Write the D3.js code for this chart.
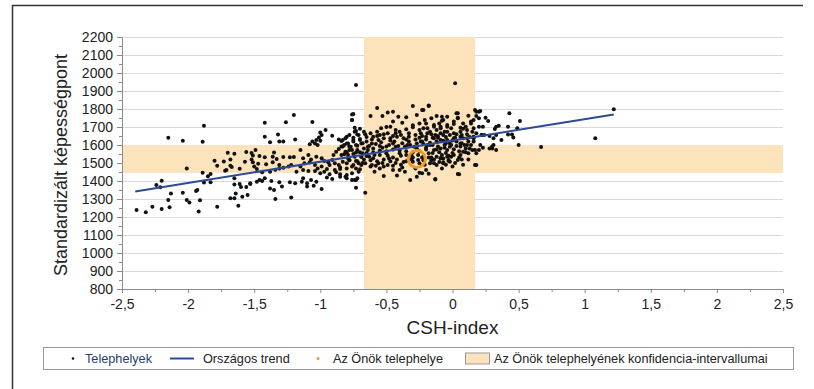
<!DOCTYPE html>
<html>
<head>
<meta charset="utf-8">
<script src="https://cdn.jsdelivr.net/npm/d3@7"></script>
<style>
  body { margin: 0; background: #fff; }
  text { font-family: "Liberation Sans", Arial, sans-serif; }
</style>
</head>
<body>
<div id="chart-area"></div>
<script>
// adatok: CSH-index (x) es standardizalt kepessegpont (y) telephelyenkent
var yTicks = [800, 900, 1000, 1100, 1200, 1300, 1400, 1500, 1600, 1700, 1800, 1900, 2000, 2100, 2200];
var xTicks = [-2.5, -2, -1.5, -1, -0.5, 0, 0.5, 1, 1.5, 2, 2.5];

// orszagos trend (kezdo- es vegpont)
var trendX = [-2.4, 1.22];
var trendY = [1342, 1769];

// az Onok telephelye
var ownSite = [-0.27, 1522];

// konfidencia-intervallumok
var ciX = [-0.67, 0.17];
var ciY = [1445, 1600];

var telephelyek = [
  // bal szel
  [-1.88,1707],[-2.15,1640],[-2.04,1624],[-1.89,1618],[-2.01,1470],
  [-1.80,1513],[-1.78,1485],[-1.73,1509],[-1.70,1557],[-1.65,1552],[-1.68,1519],[-1.68,1485],[-1.67,1478],[-1.71,1461],[-1.72,1457],[-1.57,1507],[-1.61,1468],[-1.56,1561],[-1.52,1556],[-1.52,1520],[-1.50,1480],
  [-1.89,1446],[-1.85,1426],[-1.83,1439],[-1.88,1391],[-1.83,1393],
  [-2.20,1402],[-2.21,1365],[-2.24,1378],
  [-1.65,1415],[-1.65,1381],[-1.61,1383],[-1.60,1367],[-1.56,1367],[-1.53,1383],[-1.64,1331],[-1.59,1313],[-1.55,1322],[-1.68,1304],[-1.65,1304],[-1.62,1263],
  [-2.13,1330],[-2.15,1294],[-2.04,1335],[-2.01,1294],[-1.99,1281],[-1.94,1344],[-1.93,1350],[-1.91,1293],[-1.92,1230],[-1.78,1257],
  [-2.39,1239],[-2.32,1226],[-2.27,1257],[-2.20,1244],[-2.14,1254],
  // -1.5 .. -0.7
  [-0.73,1933],[-1.20,1767],[-1.42,1724],[-1.26,1726],[-1.06,1728],[-0.76,1770],[-0.76,1739],[-0.74,1696],[-0.73,1678],[-0.72,1659],
  [-1.42,1646],[-1.32,1659],[-1.19,1631],[-1.31,1619],[-1.28,1619],[-1.38,1615],
  [-0.96,1683],[-1.00,1670],[-0.99,1655],[-1.01,1641],[-1.03,1628],[-0.91,1652],[-1.00,1624],[-1.04,1609],[-1.02,1600],[-1.06,1619],[-1.08,1604],
  [-0.78,1655],[-0.81,1637],[-0.84,1622],[-0.86,1631],[-0.80,1609],[-0.75,1628],[-0.70,1633],[-0.69,1609],[-0.72,1596],[-0.78,1591],[-0.83,1591],
  [-0.76,1572],[-0.73,1559],[-0.79,1544],[-0.82,1548],[-0.86,1578],[-0.88,1563],[-0.90,1544],[-0.68,1554],
  [-1.49,1572],[-1.51,1541],[-1.46,1539],[-1.42,1532],[-1.35,1559],[-1.36,1535],[-1.33,1522],[-1.28,1533],[-1.23,1532],[-1.20,1533],[-1.15,1572],[-1.13,1526],[-1.09,1544],[-1.07,1520],[-1.03,1535],[-0.99,1526],[-0.97,1511],[-0.94,1504],[-0.91,1517],[-0.89,1498],[-0.86,1489],[-0.83,1507],[-0.78,1517],[-0.73,1511],[-0.69,1535],
  [-1.51,1504],[-1.47,1496],[-1.41,1493],[-1.36,1504],[-1.31,1489],[-1.24,1480],[-1.22,1489],[-1.15,1480],[-1.12,1498],[-1.08,1504],[-1.04,1489],[-1.02,1470],[-0.99,1480],[-0.95,1467],[-0.93,1489],[-0.89,1461],[-0.85,1467],[-0.80,1470],[-0.76,1480],[-0.73,1470],[-0.69,1489],
  [-1.48,1467],[-1.44,1448],[-1.38,1452],[-1.34,1463],[-1.31,1470],[-1.28,1474],[-1.18,1452],[-1.13,1461],[-1.09,1456],[-1.04,1456],[-1.00,1443],[-0.97,1452],[-0.93,1437],[-0.88,1448],[-0.85,1437],[-0.80,1433],[-0.76,1443],[-0.71,1452],
  [-1.53,1387],[-1.48,1396],[-1.46,1406],[-1.44,1400],[-1.42,1415],[-1.37,1400],[-1.38,1359],[-1.35,1350],[-1.31,1393],[-1.29,1369],[-1.23,1393],[-1.19,1387],[-1.14,1396],[-1.13,1415],[-1.10,1387],[-1.07,1406],[-1.05,1374],[-1.10,1369],[-1.03,1396],[-0.99,1356],[-0.95,1419],[-0.91,1411],[-0.85,1424],[-0.80,1415],[-0.76,1406],[-0.73,1406],[-0.73,1363],
  [-1.34,1300],[-1.22,1309],
  // suru mag -0.85 .. 0.2
  [-0.75,1772],[-0.76,1739],[-0.62,1761],[-0.57,1806],[-0.53,1761],[-0.49,1780],[-0.45,1785],[-0.41,1757],[-0.45,1730],[-0.47,1702],[-0.38,1724],[-0.35,1754],[-0.30,1817],[-0.27,1767],[-0.23,1794],[-0.18,1817],[-0.21,1739],[-0.25,1720],[-0.16,1748],[-0.12,1761],[-0.08,1735],[-0.04,1757],[0.03,1776],[0.04,1748],[0.01,1717],
  [-0.04,1702],[-0.09,1693],[-0.14,1702],[-0.19,1693],[-0.25,1683],[-0.30,1698],[-0.35,1687],[-0.40,1674],[-0.43,1683],[-0.49,1665],[-0.54,1693],[-0.57,1674],[-0.60,1646],[-0.62,1665],[-0.67,1674],[-0.71,1656],[-0.74,1674],[-0.80,1646],[-0.83,1628],[-0.84,1591],
  [-0.79,1609],[-0.75,1619],[-0.70,1628],[-0.65,1619],[-0.61,1609],[-0.56,1628],[-0.52,1637],[-0.47,1637],[-0.42,1646],[-0.37,1637],[-0.33,1646],[-0.28,1656],[-0.23,1650],[-0.19,1665],[-0.13,1656],[-0.09,1665],[-0.04,1674],[0.01,1665],[0.06,1674],[0.10,1702],[0.14,1720],[0.17,1794],[0.20,1785],[0.18,1761],[0.16,1739],[0.15,1674],[0.18,1665],
  [0.20,1572],[0.16,1637],[0.12,1619],[0.08,1637],[0.03,1619],[-0.02,1609],[-0.07,1624],[-0.12,1619],[-0.17,1613],[-0.22,1606],[-0.27,1609],[-0.32,1600],[-0.36,1591],[-0.41,1594],[-0.45,1609],[-0.50,1591],[-0.55,1594],[-0.60,1581],[-0.64,1572],[-0.67,1581],[-0.72,1572],[-0.78,1572],[-0.81,1563],
  [-0.84,1544],[-0.79,1526],[-0.74,1535],[-0.69,1535],[-0.65,1539],[-0.60,1526],[-0.55,1544],[-0.50,1554],[-0.45,1531],[-0.40,1554],[-0.35,1544],[-0.30,1531],[-0.26,1544],[-0.22,1535],[-0.18,1554],[-0.14,1572],[-0.09,1581],[-0.04,1572],[0.01,1576],[0.06,1591],[0.10,1581],[0.15,1572],[0.18,1554],[0.12,1554],[0.06,1544],
  [-0.01,1535],[-0.03,1517],[-0.09,1526],[-0.14,1520],[-0.17,1498],[-0.12,1489],[-0.07,1498],[-0.02,1507],[0.04,1517],[0.18,1489],
  [-0.80,1498],[-0.75,1489],[-0.71,1498],[-0.66,1498],[-0.61,1489],[-0.56,1498],[-0.52,1480],[-0.49,1489],[-0.45,1461],[-0.40,1461],[-0.36,1452],[-0.32,1406],[-0.25,1446],[-0.27,1424],[-0.20,1461],[-0.13,1409],[0.04,1439],[-0.72,1415],[-0.74,1406],[-0.66,1335],[-0.81,1424],[-0.59,1452],[-0.52,1428],
  [-0.30,1507],[-0.26,1517],[-0.31,1520],[-0.25,1498],
  [-0.82,1600],[-0.77,1590],[-0.73,1600],[-0.68,1610],[-0.63,1595],[-0.58,1605],[-0.53,1585],[-0.48,1600],[-0.43,1590],[-0.38,1610],[-0.33,1620],[-0.29,1590],[-0.24,1620],[-0.20,1585],[-0.15,1600],[-0.11,1640],[-0.06,1600],[-0.02,1590],[0.02,1640],[0.07,1610],[0.11,1660],
  [-0.80,1560],[-0.75,1550],[-0.70,1560],[-0.65,1555],[-0.60,1560],[-0.55,1570],[-0.50,1565],[-0.45,1575],[-0.40,1570],[-0.35,1565],[-0.30,1560],[-0.25,1565],[-0.20,1575],[-0.15,1555],[-0.10,1560],[-0.05,1555],[0.00,1555],[0.05,1565],[0.10,1560],
  [-0.78,1515],[-0.72,1510],[-0.67,1520],[-0.62,1515],[-0.57,1510],[-0.52,1520],[-0.47,1510],[-0.42,1520],[-0.37,1505],[-0.33,1525],[-0.22,1515],[-0.18,1530],[-0.12,1535],[-0.07,1525],
  [-0.05,1645],[-0.15,1640],[-0.25,1640],[-0.35,1630],[-0.45,1650],[-0.55,1655],[-0.65,1645],[-0.75,1640],[-0.70,1690],[-0.50,1700],[-0.30,1710],[-0.10,1720],[0.08,1690],
  [-0.62,1480],[-0.55,1470],[-0.45,1485],[-0.38,1475],[-0.28,1470],[-0.08,1470],[0.00,1480],[0.08,1490],[-0.70,1465],[-0.85,1475],[-0.18,1440],[-0.42,1430],[0.12,1520],[0.14,1600],
  [-0.64,1590],[-0.59,1545],[-0.54,1615],[-0.49,1540],[-0.44,1620],[-0.39,1540],[-0.34,1600],[-0.31,1545],[-0.27,1580],[-0.23,1530],[-0.19,1600],[-0.16,1530],[-0.12,1575],[-0.08,1545],[-0.05,1610],[-0.03,1540],[0.00,1625],[0.03,1595],[0.05,1530],[0.09,1600],[0.13,1580],
  [-0.66,1660],[-0.61,1630],[-0.57,1650],[-0.52,1660],[-0.47,1625],[-0.43,1665],[-0.39,1655],[-0.33,1665],[-0.28,1630],[-0.24,1665],[-0.20,1630],[-0.16,1660],[-0.11,1650],[-0.07,1655],[-0.02,1655],[0.03,1660],[0.07,1655],[0.13,1645],
  [-0.68,1500],[-0.63,1535],[-0.58,1485],[-0.53,1500],[-0.48,1525],[-0.43,1500],[-0.39,1490],[-0.35,1510],[-0.21,1490],[-0.16,1515],[-0.10,1505],[-0.05,1490],[0.02,1500],[0.07,1520],
  // 0 korul
  [0.02,1943],[-0.18,1819],[-0.22,1794],[-0.08,1757],[-0.07,1739],[0.04,1776],[0.04,1752],[0.12,1763],[0.18,1785],[0.20,1748],[0.14,1730],[0.08,1720],[0.01,1730],[-0.04,1711],[-0.09,1702],[-0.14,1711],[-0.20,1720],
  [-0.22,1693],[-0.17,1674],[-0.12,1683],[-0.06,1674],[-0.01,1693],[0.06,1696],[0.11,1683],[0.16,1693],[0.20,1702],[0.22,1656],[0.16,1646],[0.11,1637],[0.06,1646],[0.01,1637],[-0.04,1628],[-0.09,1628],[-0.14,1637],[-0.20,1646],
  [-0.23,1619],[-0.17,1600],[-0.11,1591],[-0.06,1585],[-0.01,1600],[0.06,1609],[0.11,1600],[0.16,1619],[0.17,1572],[0.08,1563],[0.01,1544],[-0.04,1535],[-0.09,1526],[-0.14,1498],[-0.07,1504],[-0.03,1511],[0.05,1437],[0.17,1489],[-0.13,1411],[-0.23,1443],
  // jobb oldal
  [0.21,1789],[0.25,1752],[0.27,1733],[0.43,1776],[0.51,1733],[0.23,1702],[0.33,1702],[0.32,1689],[0.35,1707],[0.42,1702],[0.49,1693],[0.22,1656],[0.24,1656],[0.28,1650],[0.31,1637],[0.33,1656],[0.37,1628],[0.42,1659],[0.45,1659],[0.46,1641],
  [0.21,1600],[0.23,1585],[0.28,1581],[0.30,1591],[0.31,1600],[0.30,1581],[0.33,1572],[0.50,1600],[0.67,1589],[1.08,1637],[1.22,1798]
];

var legendItems = ["Telephelyek", "Országos trend", "Az Önök telephelye", "Az Önök telephelyének konfidencia-intervallumai"];

var width = 814, height = 389;
var plotLeft = 122, plotRight = 783, plotTop = 37, plotBottom = 289;

var svg = d3.select("#chart-area")
    .append("svg")
    .attr("width", width)
    .attr("height", height);

var x = d3.scaleLinear().domain([-2.5, 2.5]).range([plotLeft, plotRight]);
var y = d3.scaleLinear().domain([800, 2200]).range([plotBottom, plotTop]);

// keret
svg.append("path")
    .attr("d", "M12.5," + height + "V5.5H803")
    .attr("fill", "none")
    .attr("stroke", "#333")
    .attr("stroke-width", 1.5);

// racsvonalak
svg.append("g").selectAll("line")
    .data(yTicks.slice(1))
    .enter()
    .append("line")
    .attr("x1", plotLeft).attr("x2", plotRight)
    .attr("y1", d => Math.round(y(d)) + 0.5)
    .attr("y2", d => Math.round(y(d)) + 0.5)
    .attr("stroke", "#d9d9d9");

// konfidencia savok
var ciColor = "#fde3bb";
svg.append("rect")
    .attr("x", plotLeft)
    .attr("width", plotRight - plotLeft)
    .attr("y", y(ciY[1]))
    .attr("height", y(ciY[0]) - y(ciY[1]))
    .attr("fill", ciColor);
svg.append("rect")
    .attr("x", x(ciX[0]))
    .attr("width", x(ciX[1]) - x(ciX[0]))
    .attr("y", plotTop)
    .attr("height", plotBottom - plotTop)
    .attr("fill", ciColor);

// tengelyek
svg.append("g")
    .attr("transform", "translate(" + plotLeft + ",0)")
    .call(d3.axisLeft(y).tickValues(yTicks).tickSize(5).tickPadding(4).tickFormat(d3.format("d")));
svg.append("g")
    .attr("transform", "translate(" + plotLeft + ",0)")
    .call(d3.axisLeft(y).tickValues(d3.range(850, 2200, 100)).tickSize(3).tickFormat(""))
    .select(".domain").remove();

var fmt = d => String(d).replace(".", ",");
svg.append("g")
    .attr("transform", "translate(0," + plotBottom + ")")
    .call(d3.axisBottom(x).tickValues(xTicks).tickSize(4).tickPadding(6).tickFormat(fmt));
svg.append("g")
    .attr("transform", "translate(0," + plotBottom + ")")
    .call(d3.axisBottom(x).tickValues(d3.range(-2.25, 2.5, 0.5)).tickSize(3).tickFormat(""))
    .select(".domain").remove();

svg.selectAll(".domain").attr("stroke", "#8a8a8a");
svg.selectAll(".tick line").attr("stroke", "#8a8a8a");
svg.selectAll(".tick text")
    .attr("font-size", 14)
    .attr("fill", "#222")
    .attr("font-family", "Liberation Sans, Arial, sans-serif");

// tengelyfeliratok
svg.append("text")
    .attr("transform", "translate(67," + ((plotTop + plotBottom) / 2 + 2) + ") rotate(-90)")
    .attr("text-anchor", "middle")
    .attr("font-size", 18)
    .attr("fill", "#222")
    .text("Standardizált képességpont");
svg.append("text")
    .attr("x", (plotLeft + plotRight) / 2)
    .attr("y", 334)
    .attr("text-anchor", "middle")
    .attr("font-size", 19)
    .attr("fill", "#222")
    .text("CSH-index");

// pontok
svg.append("g").selectAll("circle")
    .data(telephelyek)
    .enter()
    .append("circle")
    .attr("cx", d => x(d[0]))
    .attr("cy", d => y(d[1]))
    .attr("r", 2)
    .attr("fill", "#111");

// trend
svg.append("line")
    .attr("x1", x(trendX[0])).attr("y1", y(trendY[0]))
    .attr("x2", x(trendX[1])).attr("y2", y(trendY[1]))
    .attr("stroke", "#2c4a96")
    .attr("stroke-width", 2);

// sajat telephely
svg.append("circle")
    .attr("cx", x(ownSite[0]))
    .attr("cy", y(ownSite[1]))
    .attr("r", 8.5)
    .attr("fill", "none")
    .attr("stroke", "#f39a1e")
    .attr("stroke-width", 3);

// jelmagyarazat
var lg = svg.append("g");
lg.append("rect")
    .attr("x", 43.5).attr("y", 347.5)
    .attr("width", 750).attr("height", 22)
    .attr("fill", "#fff")
    .attr("stroke", "#999");
var ly = 358.5;
lg.append("circle").attr("cx", 73).attr("cy", ly).attr("r", 1.3).attr("fill", "#111");
lg.append("line").attr("x1", 170).attr("x2", 194).attr("y1", ly).attr("y2", ly)
    .attr("stroke", "#2c4a96").attr("stroke-width", 2);
lg.append("circle").attr("cx", 318).attr("cy", ly).attr("r", 1.5).attr("fill", "#f39a1e");
lg.append("rect").attr("x", 465.5).attr("y", ly - 5.5).attr("width", 24).attr("height", 11)
    .attr("fill", ciColor).attr("stroke", "#999");
var lx = [85, 203, 333, 494];
lg.selectAll("text.lt")
    .data(legendItems)
    .enter()
    .append("text")
    .attr("class", "lt")
    .attr("x", (d, i) => lx[i])
    .attr("y", ly + 4.5)
    .attr("font-size", 12.7)
    .attr("fill", (d, i) => i === 0 ? "#26406e" : "#222")
    .text(d => d);
</script>
</body>
</html>
